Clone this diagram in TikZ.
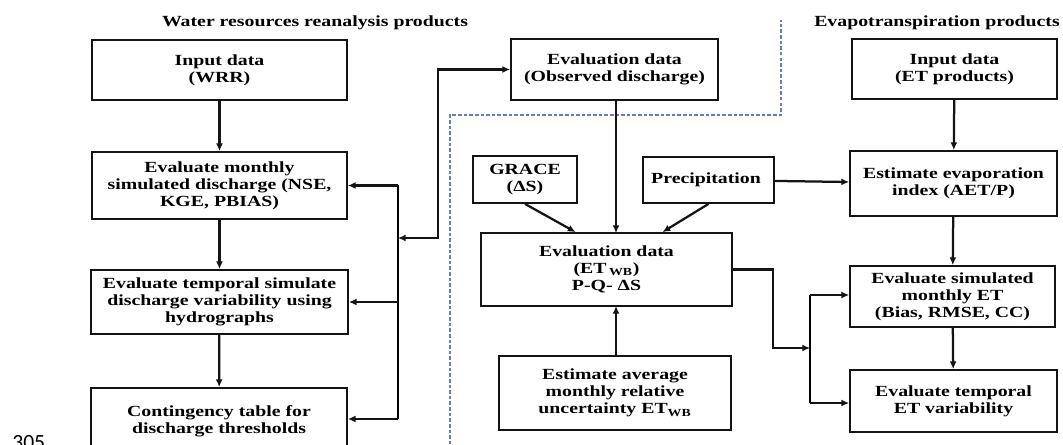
\documentclass[tikz,border=0pt]{standalone}
\usepackage{fontspec}
\setmainfont{Liberation Serif}[FakeStretch=1.28]
\newfontfamily\pagenumfont{Carlito}
\usepackage{tikz}
\definecolor{boxline}{RGB}{20, 20, 20}
\definecolor{dashblue}{RGB}{95, 130, 190}
\usetikzlibrary{arrows.meta,positioning,calc}

\begin{document}
\begin{tikzpicture}[
    x=0.025cm, y=-0.025cm,
    >={Latex[length=5.5pt,width=5pt]},
    stepbox/.style={
        rectangle,
        draw=boxline,
        line width=1.3pt,
        align=center,
        inner sep=2pt,
        font=\bfseries\fontsize{11}{12.2}\selectfont
    },
    flow/.style={->, line width=1.6pt, draw=boxline},
    heading/.style={font=\bfseries\fontsize{11}{12}\selectfont}
]
    \useasboundingbox (0,0) rectangle (1063,445);

    % Headings
    \node[heading] (wrrtitle) at (315,23) {Water resources reanalysis products};
    \node[heading] (ettitle) at (937,23) {Evapotranspiration products};

    % Water resources reanalysis column
    \node[stepbox, minimum width=255*0.025cm, minimum height=60*0.025cm] (wrr) at (219.5,70) {
        Input data\\(WRR)
    };
    \node[stepbox, minimum width=255*0.025cm, minimum height=67*0.025cm] (monthly) at (219.5,185.5) {
        Evaluate monthly\\simulated discharge (NSE,\\KGE, PBIAS)
    };
    \node[stepbox, minimum width=257*0.025cm, minimum height=64*0.025cm] (temporal) at (219.5,302) {
        Evaluate temporal simulate\\discharge variability using\\hydrographs
    };
    \node[stepbox, minimum width=256*0.025cm, minimum height=66*0.025cm] (contingency) at (219,421) {
        Contingency table for\\discharge thresholds
    };

    % Middle column
    \node[stepbox, minimum width=207*0.025cm, minimum height=61*0.025cm] (obs) at (614.5,69.5) {
        Evaluation data\\(Observed discharge)
    };
    \node[stepbox, minimum width=104*0.025cm, minimum height=47*0.025cm] (grace) at (525,179.5) {
        GRACE\\(ΔS)
    };
    \node[stepbox, minimum width=131*0.025cm, minimum height=46*0.025cm] (precip) at (708.5,180) {
        Precipitation
    };
    \node[stepbox, minimum width=251*0.025cm, minimum height=73*0.025cm] (etwb) at (606.5,269.5) {
        Evaluation data\\(ET\,\textsubscript{WB})\\P-Q- ΔS
    };
    \node[stepbox, minimum width=232*0.025cm, minimum height=74*0.025cm] (avg) at (615,393) {
        Estimate average\\monthly relative\\uncertainty ET\textsubscript{WB}
    };

    % Evapotranspiration column
    \node[stepbox, minimum width=205*0.025cm, minimum height=60*0.025cm] (etin) at (954.5,69) {
        Input data\\(ET products)
    };
    \node[stepbox, minimum width=207*0.025cm, minimum height=65*0.025cm] (aetp) at (953.5,183.5) {
        Estimate evaporation\\index (AET/P)
    };
    \node[stepbox, minimum width=205*0.025cm, minimum height=61*0.025cm] (evalet) at (952.5,296.5) {
        Evaluate simulated\\monthly ET\\(Bias, RMSE, CC)
    };
    \node[stepbox, minimum width=207*0.025cm, minimum height=62*0.025cm] (tempet) at (953.5,401) {
        Evaluate temporal\\ET variability
    };

    % Dashed separator
    \draw[dashblue, line width=0.8pt, dash pattern=on 2.5pt off 1.5pt]
        (450,450) -- (450,115) -- (781,115) -- (781,20);

    % Left column flow
    \draw[flow] (wrr) -- (monthly);
    \draw[flow] (monthly) -- (temporal);
    \draw[flow] (temporal) -- (contingency);

    \coordinate (qbustop) at (398,185.5);
    \coordinate (qbusmid) at (398,238);
    \coordinate (qbusbot) at (398,419);
    \draw[line width=1.6pt] (qbustop) -- (qbusbot);
    \draw[flow] (qbustop) -- (monthly.east);
    \draw[flow] (qbusbot |- temporal.east) -- (temporal.east);
    \draw[flow] (qbusbot) -- (qbusbot -| contingency.east);
    \draw[flow, <->] (qbusmid) -- (438,238) |- (obs.west);

    % Water balance inputs
    \draw[flow] (obs.south -| 616,0) -- (616,233);
    \draw[flow] (grace.south) -- ($(etwb.north)+(-31,0)$);
    \draw[flow] (precip.south) -- ($(etwb.north)+(56,0)$);
    \draw[flow] (avg.north -| 616,0) -- (616,306);
    \draw[flow] (precip) -- (aetp);

    % Right column flow
    \draw[flow] (etin) -- (aetp);
    \draw[flow] (aetp) -- (evalet);
    \draw[flow] (evalet) -- (tempet);

    \coordinate (etbus) at (810,348);
    \coordinate (etbustop) at (810,295);
    \coordinate (etbusbot) at (810,403);
    \draw[flow] (etwb.east) -- (773,269.5) |- (etbus);
    \draw[line width=1.6pt] (etbustop) -- (etbusbot);
    \draw[flow] (etbustop) -- (etbustop -| evalet.west);
    \draw[flow] (etbusbot) -- (etbusbot -| tempet.west);

    % Page line number
    \node[anchor=base west, inner sep=0pt, font=\pagenumfont\fontsize{15.4}{16}\selectfont] (lineno) at (12,449) {305};
\end{tikzpicture}
\end{document}
